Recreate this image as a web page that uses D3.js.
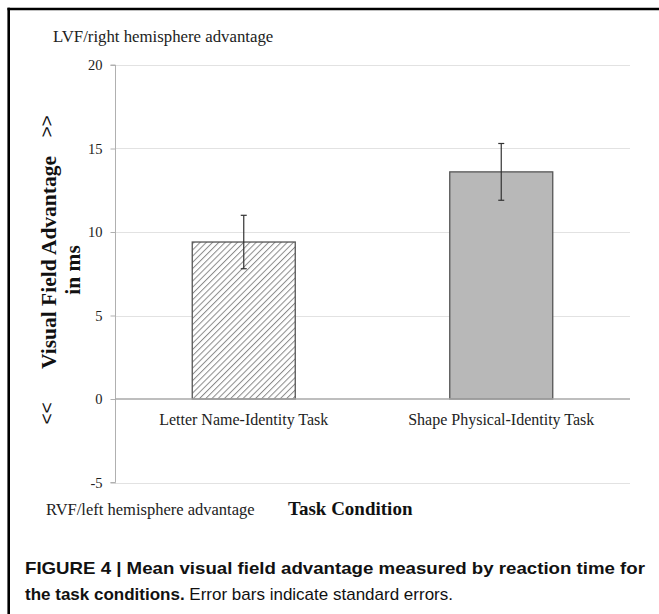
<!DOCTYPE html>
<html>
<head>
<meta charset="utf-8">
<script src="https://cdn.jsdelivr.net/npm/d3@7"></script>
<style>
  html, body { margin: 0; padding: 0; background: #fff; }
  svg { display: block; }
</style>
</head>
<body>
<svg id="chart" width="659" height="614"></svg>
<script>
const categories = ["Letter Name-Identity Task", "Shape Physical-Identity Task"];
const means = [9.4, 13.6];
const stdErrors = [1.6, 1.7];
const yTicks = [-5, 0, 5, 10, 15, 20];
const yTickLabels = ["-5", "0", "5", "10", "15", "20"];
const yDomain = [-5, 20];

const svg = d3.select("#chart");
const serif = "'Liberation Serif', 'Times New Roman', serif";
const sans = "'Liberation Sans', Arial, sans-serif";

const plot = { left: 115, right: 630, top: 65, bottom: 482.5 };

const x = d3.scaleBand().domain(categories).range([plot.left, plot.right]).paddingInner(0).paddingOuter(0);
const y = d3.scaleLinear().domain(yDomain).range([plot.bottom, plot.top]);

// hatch pattern
const defs = svg.append("defs");
const pat = defs.append("pattern").attr("id", "hatch").attr("patternUnits", "userSpaceOnUse")
  .attr("width", 4.4).attr("height", 4.4).attr("patternTransform", "rotate(45)");
pat.append("rect").attr("width", 4.4).attr("height", 4.4).attr("fill", "#fff");
pat.append("line").attr("x1", 0).attr("y1", 0).attr("x2", 0).attr("y2", 4.4)
  .attr("stroke", "#8a8a8a").attr("stroke-width", 2.0);

// outer frame (top and left)
svg.append("line").attr("x1", 7.5).attr("x2", 659).attr("y1", 9).attr("y2", 9)
  .attr("stroke", "#000").attr("stroke-width", 2.6);
svg.append("line").attr("x1", 8.7).attr("x2", 8.7).attr("y1", 7.7).attr("y2", 614)
  .attr("stroke", "#000").attr("stroke-width", 2.6);

// gridlines
svg.append("g").selectAll("line").data(yTicks.filter(d => d !== 0)).join("line")
  .attr("x1", plot.left).attr("x2", plot.right)
  .attr("y1", d => Math.round(y(d)) + 0.5).attr("y2", d => Math.round(y(d)) + 0.5)
  .attr("stroke", "#e2e2e2").attr("stroke-width", 1.2);

// y axis
const yAxis = d3.axisLeft(y).tickValues(yTicks).tickSize(5).tickPadding(8)
  .tickFormat((d, i) => yTickLabels[i]);
const gy = svg.append("g").attr("transform", `translate(${plot.left + 0.5},0)`).call(yAxis);
gy.select(".domain").attr("stroke", "#b0b0b0").attr("d", `M-5,${y(20)}H0V${y(-5)}H-5`);
gy.selectAll(".tick line").attr("stroke", "#b0b0b0");
gy.selectAll(".tick text").attr("font-family", serif).attr("font-size", 14.5).attr("fill", "#222");

// bars
const barW = x.bandwidth() * 0.4;
svg.append("g").selectAll("rect").data(categories).join("rect")
  .attr("x", d => x(d) + (x.bandwidth() - barW) / 2)
  .attr("width", barW)
  .attr("y", (d, i) => y(means[i]))
  .attr("height", (d, i) => y(0) - y(means[i]))
  .attr("fill", (d, i) => i === 0 ? "url(#hatch)" : "#b8b8b8")
  .attr("stroke", "#555").attr("stroke-width", 1.3);

// zero line
svg.append("line").attr("x1", plot.left).attr("x2", plot.right)
  .attr("y1", y(0)).attr("y2", y(0)).attr("stroke", "#a8a8a8").attr("stroke-width", 1.4);

// error bars
const eg = svg.append("g").attr("stroke", "#333").attr("stroke-width", 1.2);
categories.forEach((c, i) => {
  const cx = x(c) + x.bandwidth() / 2;
  const lo = y(means[i] - stdErrors[i]), hi = y(means[i] + stdErrors[i]);
  eg.append("line").attr("x1", cx).attr("x2", cx).attr("y1", lo).attr("y2", hi);
  eg.append("line").attr("x1", cx - 3).attr("x2", cx + 3).attr("y1", lo).attr("y2", lo);
  eg.append("line").attr("x1", cx - 3).attr("x2", cx + 3).attr("y1", hi).attr("y2", hi);
});

// category labels
svg.append("g").selectAll("text").data(categories).join("text")
  .attr("x", d => x(d) + x.bandwidth() / 2).attr("y", 425)
  .attr("text-anchor", "middle").attr("font-family", serif).attr("font-size", 16).attr("fill", "#222")
  .text(d => d);

// top / bottom annotations
svg.append("text").attr("x", 53).attr("y", 41.5).attr("font-family", serif).attr("font-size", 16.8)
  .attr("fill", "#222").text("LVF/right hemisphere advantage");
svg.append("text").attr("x", 46).attr("y", 515).attr("font-family", serif).attr("font-size", 16.5)
  .attr("fill", "#222").text("RVF/left hemisphere advantage");
svg.append("text").attr("x", 288).attr("y", 515).attr("font-family", serif).attr("font-size", 19)
  .attr("font-weight", "bold").attr("fill", "#111").text("Task Condition");

// y title
svg.append("text").attr("transform", `translate(56,262.5) rotate(-90)`)
  .attr("text-anchor", "middle").attr("font-family", serif).attr("font-size", 21.5).attr("font-weight", "bold")
  .attr("fill", "#111").text("Visual Field Advantage");
svg.append("text").attr("transform", `translate(80,270) rotate(-90)`)
  .attr("text-anchor", "middle").attr("font-family", serif).attr("font-size", 21.5).attr("font-weight", "bold")
  .attr("fill", "#111").text("in ms");

// arrows
svg.append("text").attr("transform", `translate(53,126.5) rotate(-90)`)
  .attr("text-anchor", "middle").attr("font-family", sans).attr("font-size", 19)
  .attr("fill", "#111").text(">>");
svg.append("text").attr("transform", `translate(53,413.5) rotate(-90)`)
  .attr("text-anchor", "middle").attr("font-family", sans).attr("font-size", 19)
  .attr("fill", "#111").text("<<");

// caption
svg.append("text").attr("x", 25).attr("y", 574).attr("font-family", sans).attr("font-size", 17)
  .attr("font-weight", "bold").attr("fill", "#111").attr("textLength", 620).attr("lengthAdjust", "spacingAndGlyphs")
  .text("FIGURE 4 | Mean visual field advantage measured by reaction time for");
const cap2 = svg.append("text").attr("x", 25).attr("y", 600).attr("font-family", sans).attr("font-size", 17).attr("fill", "#111");
cap2.append("tspan").attr("font-weight", "bold").text("the task conditions.");
cap2.append("tspan").text(" Error bars indicate standard errors.");
</script>
</body>
</html>
